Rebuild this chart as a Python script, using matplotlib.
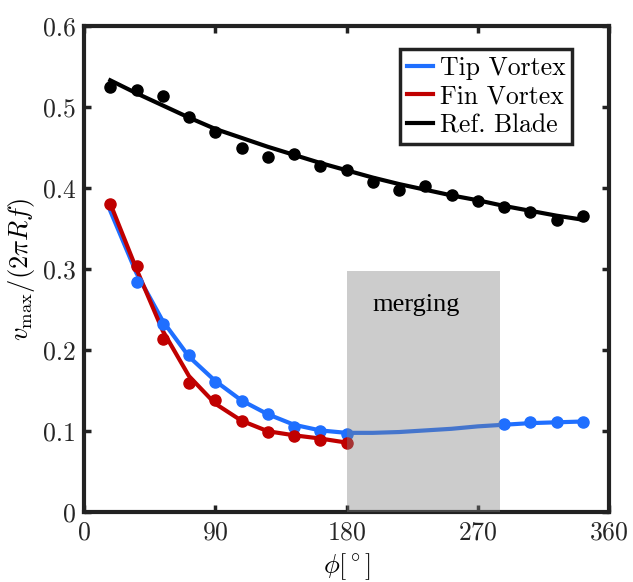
import numpy as np
import matplotlib.pyplot as plt
from matplotlib.patches import Rectangle

# ---- data ----
phi = [18, 36, 54, 72, 90, 108, 126, 144, 162, 180,
       198, 216, 234, 252, 270, 288, 306, 324, 342]

# reference blade: measured points and fitted curve
blade_pts = [0.525, 0.521, 0.514, 0.488, 0.469, 0.450, 0.438, 0.442, 0.427, 0.422,
             0.407, 0.398, 0.403, 0.392, 0.384, 0.377, 0.370, 0.361, 0.365]
blade_fit = [0.533, 0.517, 0.502, 0.487, 0.473, 0.462, 0.451, 0.441, 0.431, 0.422,
             0.413, 0.405, 0.398, 0.391, 0.385, 0.378, 0.372, 0.366, 0.361]

# tip vortex points (before and after merging) and curve
tip_phi = [36, 54, 72, 90, 108, 126, 144, 162, 180, 288, 306, 324, 342]
tip_pts = [0.284, 0.232, 0.194, 0.161, 0.137, 0.121, 0.105, 0.100, 0.096,
           0.109, 0.111, 0.111, 0.112]
tip_fit = [0.372, 0.295, 0.236, 0.192, 0.162, 0.138, 0.121, 0.108, 0.101, 0.098,
           0.098, 0.099, 0.101, 0.103, 0.106, 0.108, 0.110, 0.111, 0.112]

# fin vortex points and curve (ends at 180)
fin_phi = [18, 36, 54, 72, 90, 108, 126, 144, 162, 180]
fin_pts = [0.381, 0.304, 0.214, 0.159, 0.138, 0.113, 0.099, 0.094, 0.089, 0.085]
fin_fit = [0.381, 0.300, 0.224, 0.168, 0.134, 0.113, 0.100, 0.095, 0.091, 0.086]

merge_start, merge_end, merge_top = 180, 285, 0.298

blue = "#1f6fff"
red = "#c00000"

plt.rcParams["font.family"] = "cmr10"
plt.rcParams["mathtext.fontset"] = "cm"
plt.rcParams["axes.formatter.use_mathtext"] = True

fig = plt.figure(figsize=(6.33, 5.82), dpi=100)
ax = fig.add_axes([0.1327, 0.1198, 0.8294, 0.8355])

ax.plot(phi, tip_fit, color=blue, lw=3, label="Tip Vortex", zorder=3)
ax.plot(phi[:len(fin_fit)], fin_fit, color=red, lw=3, label="Fin Vortex", zorder=3)
ax.plot(phi, blade_fit, color="black", lw=3, label="Ref. Blade", zorder=3)

ax.plot(tip_phi, tip_pts, "o", color=blue, ms=8, zorder=3)
ax.plot(fin_phi, fin_pts, "o", color=red, ms=8, zorder=3)
ax.plot(phi, blade_pts, "o", color="black", ms=8, zorder=3)

ax.add_patch(Rectangle((merge_start, 0), merge_end - merge_start, merge_top,
                       facecolor="0.5", alpha=0.4, edgecolor="none", zorder=4))
ax.text(228, 0.2555, "merging", family="Liberation Serif",
        fontsize=19, ha="center", va="center", zorder=5)

ax.set_xlim(0, 360)
ax.set_ylim(0, 0.6)
ax.set_xticks([0, 90, 180, 270, 360])
ax.set_yticks([0, 0.1, 0.2, 0.3, 0.4, 0.5, 0.6])
ax.set_yticklabels(["0", "0.1", "0.2", "0.3", "0.4", "0.5", "0.6"])
ax.tick_params(direction="in", length=5, width=2.5, labelsize=18.5,
               top=True, right=True, pad=6, color="#222222", labelcolor="#262626")
for s in ax.spines.values():
    s.set_linewidth(3)
    s.set_color("#222222")

ax.set_xlabel(r"$\phi[^\circ]$", fontsize=19, labelpad=5)
ax.set_ylabel(r"$v_{\max}/(2\pi R f)$", fontsize=19, labelpad=4)

leg = ax.legend(loc="upper right", bbox_to_anchor=(0.93, 0.952), fontsize=18.5,
                handlelength=1.0, handletextpad=0.3, labelspacing=0.2,
                borderpad=0.25, borderaxespad=0, fancybox=False, framealpha=1)
leg.get_frame().set_edgecolor("#222222")
leg.get_frame().set_linewidth(2.5)

fig.savefig("out.png", dpi=100)
